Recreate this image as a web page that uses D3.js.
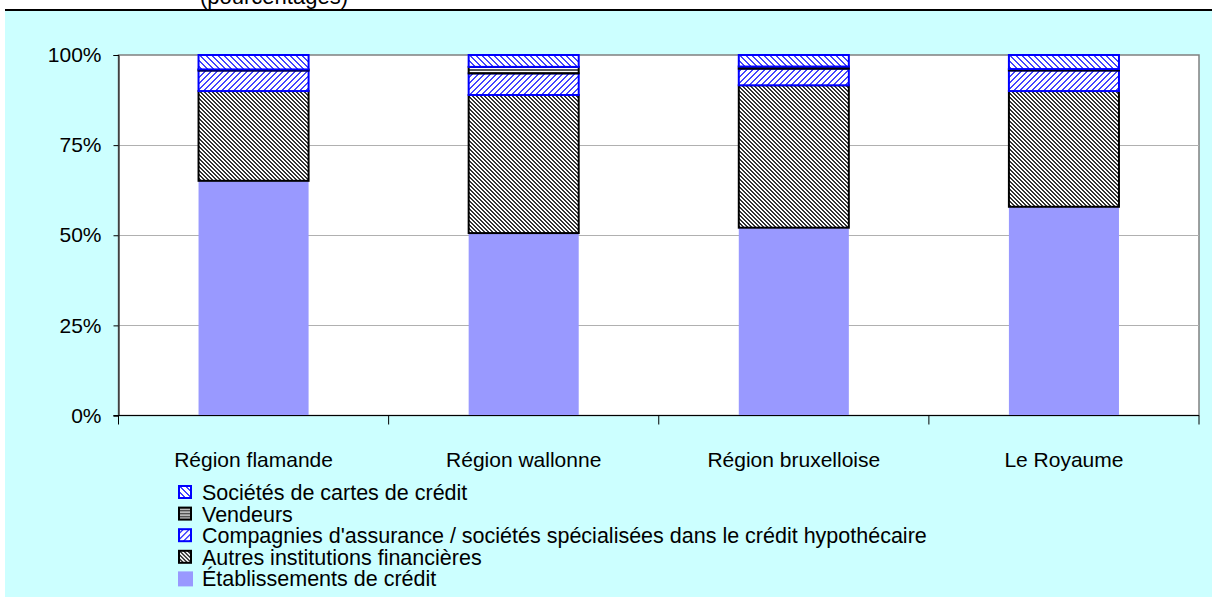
<!DOCTYPE html>
<html>
<meta charset="UTF-8">

<head>
  <script src="https://cdn.jsdelivr.net/npm/d3@7"></script>
  <style>
    body { margin: 0; background: #fff; }
    text { font-family: "Liberation Sans", Arial, sans-serif; fill: #000; }
  </style>
</head>

<body>
  <svg id="chart" width="1212" height="597"></svg>

  <script type="text/javascript">
    // categories and the stacked series, bottom to top (percent)
    const categories = ["Région flamande", "Région wallonne", "Région bruxelloise", "Le Royaume"]
    const etablissements = [65.1, 50.6, 52.1, 57.9]
    const autres = [24.9, 38.3, 39.5, 32.1]
    const compagnies = [5.7, 6.0, 4.6, 5.7]
    const vendeurs = [0.3, 1.8, 0.6, 0.4]
    const cartes = [4.0, 3.3, 3.2, 3.9]
    const yTicks = [0, 25, 50, 75, 100]

    const seriesNames = [
      "Établissements de crédit",
      "Autres institutions financières",
      "Compagnies d'assurance / sociétés spécialisées dans le crédit hypothécaire",
      "Vendeurs",
      "Sociétés de cartes de crédit"
    ]
    const seriesKeys = ["etab", "autres", "comp", "vend", "cartes"]

    const table = categories.map((c, i) => ({
      cat: c,
      etab: etablissements[i],
      autres: autres[i],
      comp: compagnies[i],
      vend: vendeurs[i],
      cartes: cartes[i]
    }))

    const fills = {
      etab: "#9999ff",
      autres: "url(#hatchBlack)",
      comp: "url(#hatchBlueUp)",
      vend: "url(#hatchHoriz)",
      cartes: "url(#hatchBlueDown)"
    }
    const strokes = { etab: "none", autres: "#000", comp: "#0000ff", vend: "#000", cartes: "#0000ff" }

    const svg = d3.select("#chart")

    // patterns
    const defs = svg.append("defs")

    function diagPattern(id, size, width, color, up) {
      const p = defs.append("pattern")
        .attr("id", id)
        .attr("patternUnits", "userSpaceOnUse")
        .attr("width", size).attr("height", size)
      p.append("rect").attr("width", size).attr("height", size).attr("fill", "#fff")
      for (let r = 0; r < size; r++) {
        for (let w = 0; w < width; w++) {
          const px = up ? (size - 1 - r + w) % size : (r + w) % size
          p.append("rect")
            .attr("x", px).attr("y", r)
            .attr("width", 1).attr("height", 1)
            .attr("fill", color)
            .attr("shape-rendering", "crispEdges")
        }
      }
    }
    diagPattern("hatchBlack", 4, 2, "#333", false)
    diagPattern("hatchBlueDown", 6, 2, "#4444ff", false)
    diagPattern("hatchBlueUp", 6, 2, "#4444ff", true)

    const hp = defs.append("pattern")
      .attr("id", "hatchHoriz")
      .attr("patternUnits", "userSpaceOnUse")
      .attr("width", 4).attr("height", 3)
    hp.append("rect").attr("width", 4).attr("height", 3).attr("fill", "#fff")
    hp.append("rect").attr("width", 4).attr("height", 2).attr("fill", "#555")

    // page frame
    svg.append("rect")
      .attr("x", 5).attr("y", 11)
      .attr("width", 1207).attr("height", 586)
      .attr("fill", "#ccffff")

    svg.append("line")
      .attr("x1", 5).attr("x2", 1212)
      .attr("y1", 10).attr("y2", 10)
      .style("stroke", "#000")
      .style("stroke-width", 2)

    svg.append("text")
      .attr("x", 200).attr("y", 3.5)
      .style("font-size", "22px")
      .text("(pourcentages)")

    // plot area
    const plotL = 118.5, plotR = 1199, plotT = 55, plotB = 415.5

    const x = d3.scaleBand()
      .domain(categories)
      .range([plotL, plotR])
      .paddingInner(0.5926)
      .paddingOuter(0.2963)

    const y = d3.scaleLinear()
      .domain([0, 100])
      .range([plotB, plotT])

    svg.append("rect")
      .attr("x", plotL).attr("y", plotT)
      .attr("width", plotR - plotL).attr("height", plotB - plotT)
      .attr("fill", "#fff")
      .style("stroke", "#808080")
      .style("stroke-width", 1.5)

    svg.append("g")
      .selectAll("line")
      .data(yTicks.filter(t => t > 0 && t < 100))
      .enter()
      .append("line")
      .attr("x1", plotL).attr("x2", plotR)
      .attr("y1", d => Math.round(y(d)) + 0.5)
      .attr("y2", d => Math.round(y(d)) + 0.5)
      .style("stroke", "#b0b0b0")

    // stacked bars
    const stacked = d3.stack().keys(seriesKeys)(table)

    svg.append("g")
      .selectAll("g")
      .data(stacked)
      .enter()
      .append("g")
      .attr("fill", d => fills[d.key])
      .style("stroke", d => strokes[d.key])
      .style("stroke-width", d => d.key === "etab" ? 0 : 2)
      .selectAll("rect")
      .data(d => d)
      .enter()
      .append("rect")
      .attr("x", d => x(d.data.cat))
      .attr("width", x.bandwidth())
      .attr("y", d => y(d[1]))
      .attr("height", d => y(d[0]) - y(d[1]))

    // axes
    const yAxis = d3.axisLeft(y)
      .tickValues(yTicks)
      .tickFormat(d => d + "%")
      .tickSize(5)
      .tickPadding(12)

    const yG = svg.append("g")
      .attr("transform", `translate(${plotL},0)`)
      .call(yAxis)
    yG.attr("font-family", null).attr("font-size", null)
    yG.selectAll("text").style("font-size", "21px")
    yG.selectAll("line, path").style("stroke", "#000")

    const xG = svg.append("g")
      .attr("transform", `translate(0,${plotB})`)
    xG.append("line")
      .attr("x1", plotL - 5).attr("x2", plotR)
      .style("stroke", "#000")
    xG.selectAll("line.tick")
      .data(d3.range(categories.length + 1))
      .enter()
      .append("line")
      .attr("class", "tick")
      .attr("x1", i => plotL + i * x.step())
      .attr("x2", i => plotL + i * x.step())
      .attr("y1", 0).attr("y2", 9)
      .style("stroke", "#000")
    xG.selectAll("text")
      .data(categories)
      .enter()
      .append("text")
      .attr("x", d => x(d) + x.bandwidth() / 2)
      .attr("y", 51)
      .style("text-anchor", "middle")
      .style("font-size", "21px")
      .text(d => d)

    // legend (top entry is the top of the stack)
    const legend = svg.append("g")
      .attr("transform", "translate(178,485)")
      .selectAll("g")
      .data(seriesKeys.slice().reverse())
      .enter()
      .append("g")
      .attr("transform", (d, i) => `translate(0,${i * 21.6})`)

    legend.append("rect")
      .attr("x", 1).attr("y", 1)
      .attr("width", 12).attr("height", 12)
      .attr("fill", d => fills[d])
      .style("stroke", d => strokes[d])
      .style("stroke-width", d => d === "etab" ? 0 : 2)

    legend.filter(d => d === "etab").select("rect")
      .attr("x", 0).attr("y", 0).attr("width", 15).attr("height", 15)

    legend.append("text")
      .attr("x", 24)
      .attr("y", 15)
      .style("font-size", "21.5px")
      .text(d => seriesNames[seriesKeys.indexOf(d)])
  </script>
</body>

</html>
